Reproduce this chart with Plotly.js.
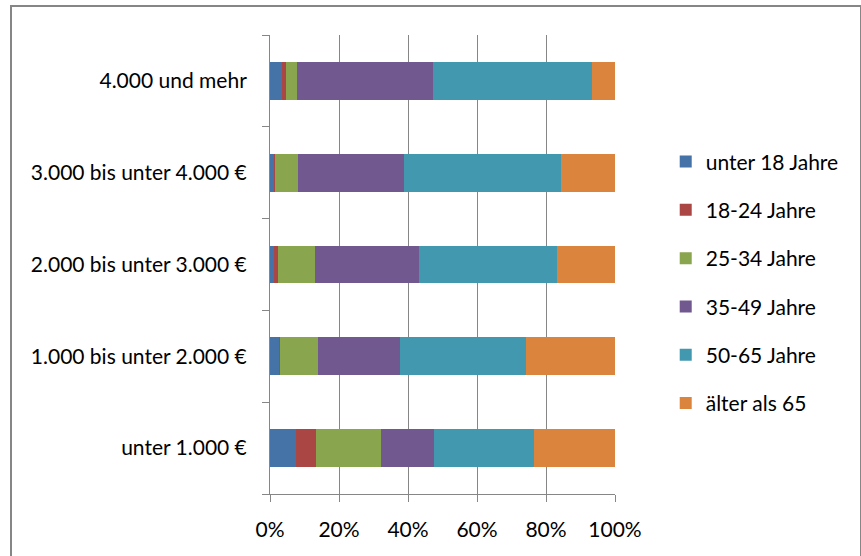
<!DOCTYPE html>
<html>
<head>
<meta charset="utf-8">
<script src="https://cdn.plot.ly/plotly-3.0.1.min.js"></script>
<style>
  html, body { margin: 0; padding: 0; background: #fff; }
  #wrap { position: relative; width: 861px; height: 556px; overflow: hidden; }
  #chart { position: absolute; left: 0; top: 0; width: 861px; height: 556px; }
  #frame { position: absolute; left: 10px; top: 5px; width: 848px; height: 600px;
           border: 2px solid #868686; pointer-events: none; }
</style>
</head>
<body>
<div id="wrap">
  <div id="chart"></div>
  <div id="frame"></div>
</div>
<script>
// Categories (bottom to top)
const categories = [
  "unter 1.000 €",
  "1.000 bis unter 2.000 €",
  "2.000 bis unter 3.000 €",
  "3.000 bis unter 4.000 €",
  "4.000 und mehr"
];
const seriesNames = ["unter 18 Jahre", "18-24 Jahre", "25-34 Jahre", "35-49 Jahre", "50-65 Jahre", "älter als 65"];
// Shares in percent, same order as categories
const unter18 = [7.5, 2.5, 1.3, 1.3, 3.4];
const j18_24  = [5.7, 0.3, 1.0, 0.1, 1.1];
const j25_34  = [19.1, 11.0, 10.7, 6.6, 3.2];
const j35_49  = [15.3, 24.0, 30.1, 30.9, 39.6];
const j50_65  = [28.9, 36.4, 40.1, 45.4, 45.9];
const aelter65 = [23.5, 25.8, 16.8, 15.7, 6.8];
const xTickVals = [0, 20, 40, 60, 80, 100];
const xTickText = ["0%", "20%", "40%", "60%", "80%", "100%"];

const seriesValues = [unter18, j18_24, j25_34, j35_49, j50_65, aelter65];
const colors = ["#4572A7", "#AA4643", "#89A54E", "#71588F", "#4198AF", "#DB843D"];

const traces = seriesValues.map((vals, i) => ({
  type: "bar",
  orientation: "h",
  name: seriesNames[i],
  legendgroup: "g" + i,
  y: categories,
  x: vals,
  marker: { color: colors[i], line: { width: 0 } },
  hoverinfo: "x+name"
}));

const FONT = "Lato, 'Open Sans', sans-serif";
const FS = 21;
const layout = {
  width: 861,
  height: 556,
  margin: { l: 269.5, r: 245.5, t: 35, b: 62, pad: 0 },
  paper_bgcolor: "#ffffff",
  plot_bgcolor: "#ffffff",
  barmode: "stack",
  barnorm: "percent",
  bargap: 0.59,
  font: { family: FONT, size: FS, color: "#000000" },
  showlegend: true,
  legend: {
    x: 1.147, xref: "paper", xanchor: "left",
    y: 0.461, yanchor: "middle",
    traceorder: "grouped",
    tracegroupgap: 18,
    font: { family: FONT, size: FS, color: "#000000" },
    bgcolor: "rgba(0,0,0,0)",
    itemwidth: 30
  },
  xaxis: {
    range: [0, 100],
    tickvals: xTickVals,
    ticktext: xTickText,
    showgrid: true,
    gridcolor: "#868686",
    gridwidth: 1,
    zeroline: false,
    showline: true,
    linecolor: "#868686",
    linewidth: 1,
    ticks: "outside",
    ticklen: 7,
    tickcolor: "#868686",
    tickfont: { family: FONT, size: FS, color: "#000000" },
    ticklabelstandoff: 10,
    fixedrange: true
  },
  yaxis: {
    type: "category",
    categoryorder: "array",
    categoryarray: categories,
    showgrid: false,
    zeroline: false,
    showline: true,
    linecolor: "#868686",
    linewidth: 1,
    ticks: "outside",
    tickson: "boundaries",
    ticklen: 7,
    tickcolor: "#868686",
    tickfont: { family: FONT, size: FS, color: "#000000" },
    ticklabelstandoff: 18,
    fixedrange: true
  }
};

Plotly.newPlot("chart", traces, layout, { displayModeBar: false, staticPlot: true });
</script>
</body>
</html>
